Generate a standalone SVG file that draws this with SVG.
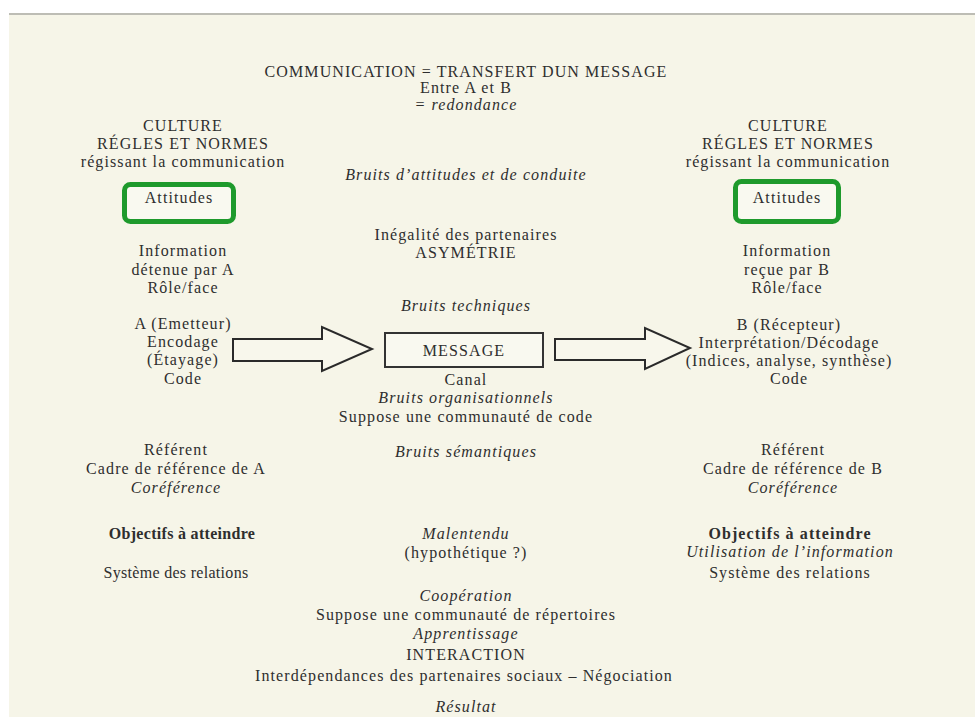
<svg xmlns="http://www.w3.org/2000/svg" width="975" height="717" viewBox="0 0 975 717">
<style>
text{font-family:"Liberation Serif","Times New Roman",serif;font-size:16px;letter-spacing:1.1px;fill:#2e2e2e;text-anchor:middle}
.i{font-style:italic}
.b{font-weight:bold}
.ls{letter-spacing:0.3px}
.att{fill:#f9f9f0;stroke:#1e9a2c;stroke-width:5}
.box{fill:#f9f9f0;stroke:#333;stroke-width:2}
.arr{fill:#f8f7ec;stroke:#2a2a2a;stroke-width:2;stroke-linejoin:miter}
</style>
<rect x="0" y="0" width="975" height="717" fill="#ffffff"/>
<rect x="9" y="14" width="966" height="703" fill="#f6f5e8"/>
<line x1="9" y1="14" x2="975" y2="14" stroke="#bdbdb5" stroke-width="2"/>

<g id="title">
<text x="466" y="77">COMMUNICATION = TRANSFERT DUN MESSAGE</text>
<text x="466" y="93">Entre A et B</text>
<text x="466" y="110" class="i">= redondance</text>
</g>

<g id="left-culture">
<text x="183" y="131">CULTURE</text>
<text x="183" y="149">RÉGLES ET NORMES</text>
<text x="183" y="167">régissant la communication</text>
</g>
<g id="left-attitudes">
<rect class="att" x="124.5" y="184.5" width="109" height="37" rx="6"/>
<text x="179" y="203">Attitudes</text>
</g>
<g id="left-info">
<text x="183" y="256">Information</text>
<text x="183" y="275">détenue par A</text>
<text x="183" y="293">Rôle/face</text>
</g>
<g id="emetteur">
<text x="183" y="329">A (Emetteur)</text>
<text x="183" y="347">Encodage</text>
<text x="183" y="365">(Étayage)</text>
<text x="183" y="384">Code</text>
</g>
<g id="left-referent">
<text x="176" y="455">Référent</text>
<text x="176" y="474">Cadre de référence de A</text>
<text x="176" y="493" class="i">Coréférence</text>
</g>
<g id="left-objectifs">
<text x="182" y="539" class="b ls">Objectifs à atteindre</text>
<text x="176" y="578" class="ls">Système des relations</text>
</g>

<g id="right-culture">
<text x="788" y="131">CULTURE</text>
<text x="788" y="149">RÉGLES ET NORMES</text>
<text x="788" y="167">régissant la communication</text>
</g>
<g id="right-attitudes">
<rect class="att" x="735.5" y="181.5" width="103" height="40" rx="6"/>
<text x="787" y="203">Attitudes</text>
</g>
<g id="right-info">
<text x="787" y="256">Information</text>
<text x="787" y="275">reçue par B</text>
<text x="787" y="293">Rôle/face</text>
</g>
<g id="recepteur">
<text x="789" y="330">B (Récepteur)</text>
<text x="789" y="348">Interprétation/Décodage</text>
<text x="789" y="366">(Indices, analyse, synthèse)</text>
<text x="789" y="384">Code</text>
</g>
<g id="right-referent">
<text x="793" y="455">Référent</text>
<text x="793" y="474">Cadre de référence de B</text>
<text x="793" y="493" class="i">Coréférence</text>
</g>
<g id="right-objectifs">
<text x="790" y="539" class="b">Objectifs à atteindre</text>
<text x="790" y="557" class="i">Utilisation de l’information</text>
<text x="790" y="578">Système des relations</text>
</g>

<g id="center-top">
<text x="466" y="180" class="i">Bruits d’attitudes et de conduite</text>
<text x="466" y="240">Inégalité des partenaires</text>
<text x="466" y="258">ASYMÉTRIE</text>
<text x="466" y="311" class="i">Bruits techniques</text>
</g>
<g id="message">
<rect class="box" x="385" y="333" width="158" height="34"/>
<text x="464" y="356">MESSAGE</text>
</g>
<g id="center-canal">
<text x="466" y="385">Canal</text>
<text x="466" y="403" class="i">Bruits organisationnels</text>
<text x="466" y="422">Suppose une communauté de code</text>
<text x="466" y="457" class="i">Bruits sémantiques</text>
</g>
<g id="center-malentendu">
<text x="466" y="539" class="i">Malentendu</text>
<text x="466" y="558">(hypothétique ?)</text>
</g>
<g id="center-interaction">
<text x="466" y="601" class="i">Coopération</text>
<text x="466" y="620">Suppose une communauté de répertoires</text>
<text x="466" y="639" class="i">Apprentissage</text>
<text x="466" y="660">INTERACTION</text>
<text x="464" y="681">Interdépendances des partenaires sociaux – Négociation</text>
<text x="466" y="712" class="i">Résultat</text>
</g>

<g id="connectors">
<polygon class="arr" points="233,339 322,339 322,327 372,349 322,371 322,361 233,361"/>
<polygon class="arr" points="555,339 645,339 645,328 690,348 645,369 645,360 555,360"/>
</g>
</svg>
